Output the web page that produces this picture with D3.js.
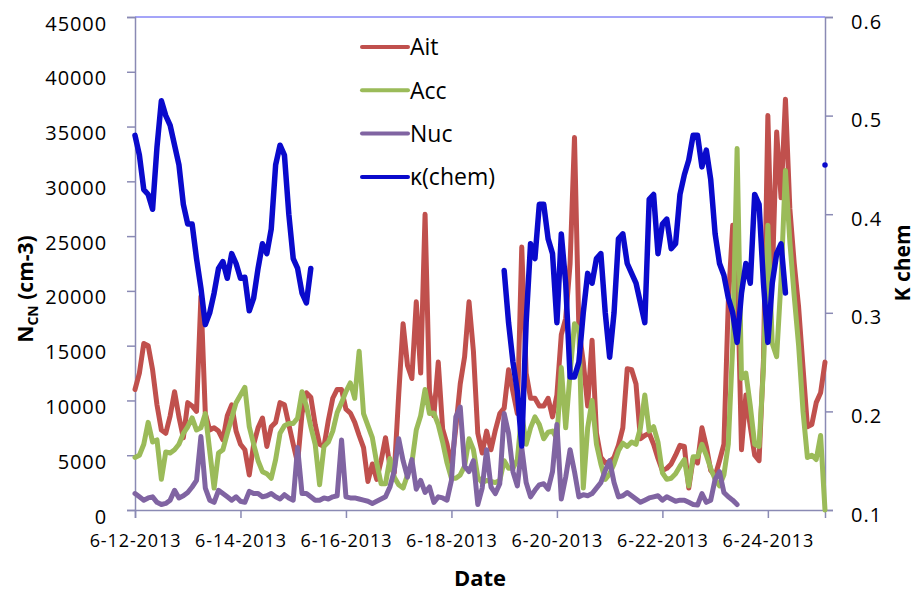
<!DOCTYPE html>
<html>
<head>
<meta charset="utf-8">
<script src="https://cdn.jsdelivr.net/npm/d3@7"></script>
<style>
  body { margin: 0; background: #fff; }
  text { font-family: "Open Sans", sans-serif; fill: #000; }
</style>
</head>
<body>
<div id="chart"></div>
<script>
// sampling grid: one reading every 2 hours from 6-12-2013 00:00
const startDate = new Date(2013, 5, 12, 0, 0);
const endDate = new Date(2013, 5, 25, 2, 0);
const hours = d3.range(0, 316, 2);

const seriesNames = ['Ait', 'Acc', 'Nuc', 'κ(chem)'];
const xTickDates = ['6-12-2013', '6-14-2013', '6-16-2013', '6-18-2013', '6-20-2013', '6-22-2013', '6-24-2013'];
const leftTicks = [0, 5000, 10000, 15000, 20000, 25000, 30000, 35000, 40000, 45000];
const rightTicks = [0.1, 0.2, 0.3, 0.4, 0.5, 0.6];

// Aitken mode (cm-3)
const ait = [
  11000, 12500, 15200, 15000, 12800, 9600, 7300, 7000, 8600, 10800,
  8500, 6600, 9800, 9500, 9000, 19500, 8800, 7300, 7500, 7200,
  6400, 8600, 9600, 7200, 6000, 5500, 3200, 6000, 7500, 8400,
  5800, 7600, 8000, 9800, 9600, 7800, 6000, 4300, 8800, 10700,
  10300, 7800, 6000, 5800, 8200, 10200, 11000, 11000, 9200, 8850,
  8000, 6800, 5700, 2600, 4200, 2800, 4500, 6600, 4000, 3400,
  10500, 17000, 13200, 12000, 19000, 12500, 27000, 10800, 8600, 13500,
  7400, 6000, 4000, 7500, 11500, 14000, 19000, 14500, 7000, 5200,
  7200, 5500, 7300, 8800, 9300, 12800, 10800, 8800, 24000, 12500,
  10200, 10200, 9500, 9500, 10200, 8500, 10500, 16000, 17500, 22500,
  34000, 16500, 13500, 9500, 15500, 7000, 4800, 4300, 4400, 4800,
  5900, 7500, 12900, 12800, 11500, 6500, 6800, 7000, 6000, 4700,
  3600, 3800, 4200, 5000, 5900, 5800, 2000, 4700, 4300, 7500,
  5800, 3600, 3100, 4500, 6000, 19000, 26000, 22800, 5500, 10500,
  7600, 5000, 4500, 13700, 36000, 21000, 34500, 28500, 37500, 27500,
  22500, 18500, 13000, 7600, 7800, 9800, 10700, 13500
];

// Accumulation mode (cm-3)
const acc = [
  4800, 5000, 6000, 8000, 6200, 6400, 2800, 5300, 5200, 5500,
  6000, 7000, 7600, 8400, 7300, 7500, 8800, 5400, 2000, 5200,
  5500, 7000, 8400, 9800, 10500, 11200, 7600, 6000, 4500, 3500,
  3300, 2900, 4600, 7000, 7700, 7900, 7900, 8400, 10800, 9500,
  7600, 6000, 2300, 5800, 6200, 7200, 8900, 9800, 10800, 11600,
  10200, 14500, 8800, 7700, 6600, 4300, 2400, 2400, 4700, 3000,
  2300, 2000, 3200, 4300, 7300, 8600, 11000, 8800, 8850, 7800,
  6200, 4300, 2900, 2900, 3200, 4000, 6500, 5500, 3000, 2500,
  2700, 2600, 2500, 2700, 4500, 3800, 3800, 4600, 8800, 6000,
  7500, 8500, 7800, 6500, 7100, 7200, 6500, 13000, 7500, 12500,
  17000, 16500, 2000, 7500, 10000, 6000, 4200, 2800, 3300, 4200,
  5400, 6100, 5800, 6200, 6000, 7500, 10500, 7200, 7600, 6200,
  3400, 2800, 2900, 3300, 4000, 4600, 2200, 4850, 4850, 6000,
  5000, 3800, 2800, 2200, 3200, 6000, 15000, 33000, 12000, 12500,
  9500, 6000, 5800, 13000, 26000, 15200, 14000, 21000, 31000, 24500,
  19500, 15000, 9000, 4800, 5000, 4600, 6800, 0
];

// Nucleation mode (cm-3)
const nuc = [
  1500, 1200, 900, 1100, 1200, 700, 500, 600, 900, 1800,
  1100, 1300, 1600, 2100, 2700, 6700, 2000, 900, 700, 1800,
  1500, 1200, 900, 1200, 800, 700, 1700, 1500, 1500, 1200,
  1300, 1500, 1200, 1000, 1400, 1100, 900, 5700, 1500, 1500,
  1200, 900, 900, 1100, 1000, 1200, 1300, 6400, 1200, 1100,
  1100, 1000, 900, 800, 600, 800, 1000, 1200, 2100, 3600,
  6500, 4500, 3000, 4600, 1900, 2700, 1600, 2100, 700, 1200,
  1100, 900, 2700, 8500, 9400, 4000, 3500, 4500, 500, 2000,
  5500, 2100, 1500, 2400, 8800, 7000, 3500, 2200, 5700, 2500,
  1200, 1800, 2300, 2400, 1900, 3500, 7800, 1000, 3000, 5500,
  3500, 1200, 1400, 1300, 1500, 2000, 2500, 3600, 4500, 2500,
  1200, 1300, 1600, 1300, 1000, 700, 900, 1100, 1200, 1300,
  900, 1200, 1000, 800, 900, 900, 700, 500, 450, 1500,
  700, 900, 2800, 3500, 1600, 1200, 900, 500, null, null,
  null, null, null, null, null, null, null, null, null, null,
  null, null, null, null, null, null, null, null
];

// kappa from chemistry (right axis)
const kappa = [
  0.48, 0.46, 0.425, 0.42, 0.405, 0.468, 0.515, 0.50, 0.49, 0.47,
  0.45, 0.41, 0.39, 0.39, 0.355, 0.325, 0.288, 0.30, 0.32, 0.345,
  0.352, 0.335, 0.36, 0.35, 0.335, 0.336, 0.302, 0.315, 0.345, 0.37,
  0.36, 0.385, 0.45, 0.47, 0.46, 0.40, 0.355, 0.345, 0.32, 0.31,
  0.345, null, null, null, null, null, null, null, null, null,
  null, null, null, null, null, null, null, null, null, null,
  null, null, null, null, null, null, null, null, null, null,
  null, null, null, null, null, null, null, null, null, null,
  null, null, null, null, 0.343, 0.29, 0.25, 0.22, 0.165, 0.29,
  0.37, 0.355, 0.41, 0.41, 0.375, 0.36, 0.29, 0.38, 0.33, 0.235,
  0.235, 0.25, 0.30, 0.34, 0.33, 0.355, 0.36, 0.30, 0.255, 0.30,
  0.375, 0.38, 0.35, 0.34, 0.33, 0.31, 0.29, 0.415, 0.42, 0.36,
  0.39, 0.395, 0.365, 0.37, 0.42, 0.44, 0.455, 0.48, 0.48, 0.448,
  0.465, 0.435, 0.38, 0.35, 0.338, 0.315, 0.30, 0.27, 0.32, 0.35,
  0.33, 0.42, 0.41, 0.33, 0.27, 0.33, 0.36, 0.37, 0.32, null,
  null, null, null, null, null, null, null, 0.45
];

const colors = ['#C0504D', '#9BBB59', '#8064A2', '#0A0ACC'];

const width = 916, height = 597;
const margin = { top: 17, right: 91, bottom: 87, left: 135 };
const innerW = width - margin.left - margin.right;
const innerH = height - margin.top - margin.bottom;

const svg = d3.select('#chart').append('svg')
  .attr('width', width)
  .attr('height', height);

const g = svg.append('g').attr('transform', `translate(${margin.left},${margin.top})`);

const x = d3.scaleTime().domain([startDate, endDate]).range([0, innerW]);
const yL = d3.scaleLinear().domain([0, 45000]).range([innerH, 0]);
const yR = d3.scaleLinear().domain([0.1, 0.6]).range([innerH, 0]);

const parseTick = d3.timeParse('%m-%d-%Y');
const fmtTick = d3.timeFormat('%-m-%-d-%Y');
const timeAt = h => d3.timeHour.offset(startDate, h);

const axisColor = '#8A8AB4';

// top border of the plot area
g.append('line')
  .attr('x1', 0).attr('x2', innerW).attr('y1', 0).attr('y2', 0)
  .attr('stroke', '#4B4BF2').attr('stroke-width', 1);

// axes
const gxL = g.append('g')
  .call(d3.axisLeft(yL).tickValues(leftTicks).tickSize(8).tickPadding(20).tickFormat(d3.format('d')));
const gxR = g.append('g').attr('transform', `translate(${innerW},0)`)
  .call(d3.axisRight(yR).tickValues(rightTicks).tickSize(8).tickPadding(18).tickFormat(d3.format('.1f')));
const gxB = g.append('g').attr('transform', `translate(0,${innerH})`)
  .call(d3.axisBottom(x).tickValues(xTickDates.map(parseTick)).tickSize(8).tickPadding(16).tickFormat(fmtTick));

[gxL, gxR, gxB].forEach(a => {
  a.selectAll('.domain').attr('stroke', axisColor).attr('stroke-width', 1.5);
  a.selectAll('.tick line').attr('stroke', axisColor).attr('stroke-width', 1.5);
  a.selectAll('text').attr('fill', '#000');
});
gxL.selectAll('text').style('font-size', '20px').attr('dy', '0.65em').style('letter-spacing', '0.9px');
gxR.selectAll('text').style('font-size', '20px').attr('dy', '0.55em').style('letter-spacing', '1px');
gxB.selectAll('text').style('font-size', '18px').style('letter-spacing', '0.9px');

// series lines
const line = scale => d3.line()
  .defined(d => d.v !== null)
  .x(d => x(timeAt(d.h)))
  .y(d => scale(d.v));

const allSeries = [ait, acc, nuc, kappa];
allSeries.forEach((vals, i) => {
  const pts = hours.map((h, j) => ({ h: h, v: vals[j] }));
  g.append('path')
    .datum(pts)
    .attr('fill', 'none')
    .attr('stroke', colors[i])
    .attr('stroke-width', i === 3 ? 5.5 : 5)
    .attr('stroke-linejoin', 'round')
    .attr('stroke-linecap', 'round')
    .attr('d', line(i === 3 ? yR : yL));
});

// legend
const legend = svg.append('g').attr('transform', 'translate(362,47)');
seriesNames.forEach((name, i) => {
  const row = legend.append('g').attr('transform', `translate(0,${i * 43.3})`);
  row.append('line')
    .attr('x1', 0).attr('x2', 46).attr('y1', 0).attr('y2', 0)
    .attr('stroke', colors[i]).attr('stroke-width', 4).attr('stroke-linecap', 'round');
  row.append('text')
    .attr('x', 48).attr('y', 0).attr('dy', '0.36em')
    .style('font-size', '23px')
    .text(name);
});

// axis titles
const yTitle = svg.append('text')
  .attr('transform', 'translate(33,289) rotate(-90)')
  .attr('text-anchor', 'middle')
  .style('font-size', '21px').style('font-weight', 'bold');
yTitle.append('tspan').text('N');
yTitle.append('tspan').attr('dy', '5').style('font-size', '14px').text('CN');
yTitle.append('tspan').attr('dy', '-5').text(' (cm-3)');

svg.append('text')
  .attr('transform', 'translate(910,263) rotate(-90)')
  .attr('text-anchor', 'middle')
  .style('font-size', '21px').style('font-weight', 'bold')
  .text('K chem');

svg.append('text')
  .attr('x', margin.left + innerW / 2).attr('y', 586)
  .attr('text-anchor', 'middle')
  .style('font-size', '22px').style('font-weight', 'bold')
  .text('Date');
</script>
</body>
</html>
